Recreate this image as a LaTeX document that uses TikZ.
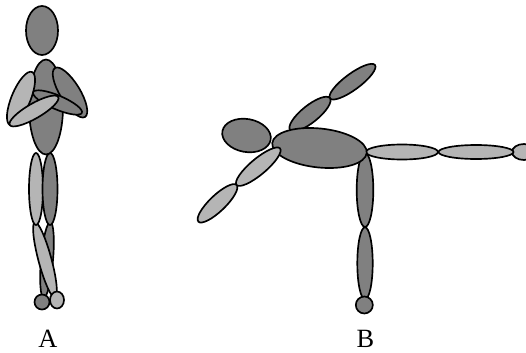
\documentclass[tikz,border=0pt]{standalone}
\usepackage{fontspec}
\setmainfont{Liberation Serif}
\usepackage{tikz}

\definecolor{bodydark}{gray}{0.5}
\definecolor{bodylight}{gray}{0.71}

\begin{document}
\begin{tikzpicture}
        [x=0.02cm, y=0.02cm,
        line width=0.95pt,
        dark/.style = {draw=black, fill=bodydark},
        light/.style = {draw=black, fill=bodylight},
        letter/.style = {font=\fontsize{15}{17}\selectfont,
        inner sep=0pt, text depth=0pt, anchor=base}]

        \useasboundingbox (0,0) rectangle (526,352);

        % Figure A: legs
        \draw[dark, rotate around={-5:(47,92)}] (47,92) ellipse (6 and 38);
        \draw[light, rotate around={15:(45,92)}] (45,92) ellipse (6.5 and 39);
        \draw[dark] (42,50) circle (7.5);
        \draw[light] (57,52) ellipse (7 and 8.5);
        \draw[light] (36,163) ellipse (7 and 36);
        \draw[dark] (50,163) ellipse (7.5 and 36);

        % Figure A: body and head
        \draw[dark] (46,245) ellipse (17 and 47.5);
        \draw[dark] (42,321.5) ellipse (16 and 24.5);

        % Figure A: folded arms
        \draw[light, rotate around={-22.5:(21,253.5)}] (21,253.5) ellipse (9.5 and 28.7);
        \draw[dark, rotate around={31.5:(70,259.5)}] (70,259.5) ellipse (10 and 28.7);
        \draw[dark, rotate around={-23:(57.5,249.5)}] (57.5,249.5) ellipse (26.5 and 7);
        \draw[light, rotate around={30:(34,241)}] (34,241) ellipse (28 and 7.5);

        % Figure B: standing leg
        \draw[dark] (365,88.7) ellipse (7.7 and 36);
        \draw[dark] (365,162) ellipse (8.3 and 37);
        \draw[dark] (364.3,47) circle (8.5);

        % Figure B: raised leg
        \draw[light] (524,200) ellipse (12 and 8);
        \draw[light] (476,200) ellipse (37.5 and 7);
        \draw[light] (402,200) ellipse (36 and 7.5);

        % Figure B: upper arm
        \draw[dark, rotate around={36.5:(352.5,270.3)}] (352.5,270.3) ellipse (28 and 8);
        \draw[dark, rotate around={38.7:(310,238)}] (310,238) ellipse (25.5 and 8.5);

        % Figure B: body and head
        \draw[dark, rotate around={-6:(319.5,204)}] (319.5,204) ellipse (47.5 and 19.5);
        \draw[dark, rotate around={-10:(246.5,216.5)}] (246.5,216.5) ellipse (24.5 and 16.5);

        % Figure B: lower arm
        \draw[light, rotate around={43.8:(217.5,148.7)}] (217.5,148.7) ellipse (26.5 and 8);
        \draw[light, rotate around={40:(258.3,185.3)}] (258.3,185.3) ellipse (28.4 and 8);

        % Labels
        \node[letter] (labelA) at (48,5) {A};
        \node[letter] (labelB) at (365.5,5) {B};
    \end{tikzpicture}
\end{document}
